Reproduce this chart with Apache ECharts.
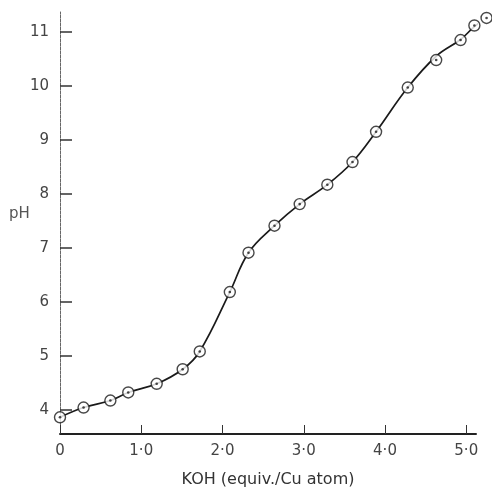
<!DOCTYPE html>
<html>
<head>
<meta charset="utf-8">
<script src="https://cdn.jsdelivr.net/npm/echarts@6/dist/echarts.min.js"></script>
<style>html,body{margin:0;padding:0;background:#fff}#c{width:492px;height:495px}</style>
</head>
<body>
<div id="c"></div>
<script>
// measured points
var koh = [0, 0.29, 0.62, 0.84, 1.19, 1.51, 1.72, 2.09, 2.32, 2.64, 2.95, 3.29, 3.60, 3.89, 4.28, 4.63, 4.93, 5.10, 5.25];
var ph  = [3.86, 4.04, 4.17, 4.32, 4.48, 4.75, 5.08, 6.18, 6.91, 7.41, 7.81, 8.17, 8.59, 9.15, 9.97, 10.48, 10.85, 11.12, 11.26];
// drawn curve (passes above the point at 4.63)
var curveKoh = [0, 0.29, 0.62, 0.84, 1.19, 1.51, 1.72, 2.09, 2.32, 2.64, 2.95, 3.29, 3.60, 3.89, 4.28, 4.63, 4.93, 5.10, 5.25];
var curvePh  = [3.86, 4.04, 4.17, 4.32, 4.48, 4.75, 5.08, 6.18, 6.91, 7.41, 7.81, 8.17, 8.59, 9.15, 9.97, 10.55, 10.86, 11.10, 11.26];
var xTicks = [0, 1, 2, 3, 4, 5];
var xTickLabels = ['0', '1·0', '2·0', '3·0', '4·0', '5·0'];
var yTicks = [4, 5, 6, 7, 8, 9, 10, 11];

var pts = koh.map(function (x, i) { return [x, ph[i]]; });
var curve = curveKoh.map(function (x, i) { return [x, curvePh[i]]; });

var font = 'DejaVu Sans';
var chart = echarts.init(document.getElementById('c'));
chart.setOption({
  animation: false,
  grid: { left: 60, right: 16, top: 12, bottom: 61 },
  graphic: [{
    type: 'text', left: 9, top: 207,
    style: { text: 'pH', fontFamily: font, fontSize: 15, fill: '#555' }
  }],
  xAxis: {
    type: 'value', min: 0, max: 5.12,
    name: 'KOH (equiv./Cu atom)', nameLocation: 'middle', nameGap: 38,
    nameTextStyle: { fontFamily: font, fontSize: 16, color: '#333' },
    axisLine: { lineStyle: { color: '#222', width: 2 } },
    axisTick: { inside: true, length: 9, customValues: xTicks, lineStyle: { color: '#333', width: 1 } },
    axisLabel: { customValues: xTicks, margin: 10, fontFamily: font, fontSize: 15, color: '#444',
      formatter: function (v) { var i = xTicks.indexOf(v); return i >= 0 ? xTickLabels[i] : ''; } },
    splitLine: { show: false }
  },
  yAxis: {
    type: 'value', min: 3.55, max: 11.37,
    axisLine: { lineStyle: { color: '#666', width: 1, type: [3, 1] } },
    axisTick: { inside: true, length: 12, customValues: yTicks, lineStyle: { color: '#333', width: 1.5 } },
    axisLabel: { customValues: yTicks, margin: 11, fontFamily: font, fontSize: 15, color: '#444' },
    splitLine: { show: false }
  },
  series: [
    { type: 'line', data: curve, smooth: 0.4, showSymbol: false, clip: false, z: 2,
      lineStyle: { color: '#1a1a1a', width: 1.7 } },
    { type: 'scatter', data: pts, symbol: 'circle', symbolSize: 11, clip: false, z: 3,
      itemStyle: { color: '#fff', borderColor: '#1a1a1a', borderWidth: 1.4 } },
    { type: 'scatter', data: pts, symbol: 'circle', symbolSize: 2.6, clip: false, z: 4,
      itemStyle: { color: '#1a1a1a' } }
  ]
});
</script>
</body>
</html>
